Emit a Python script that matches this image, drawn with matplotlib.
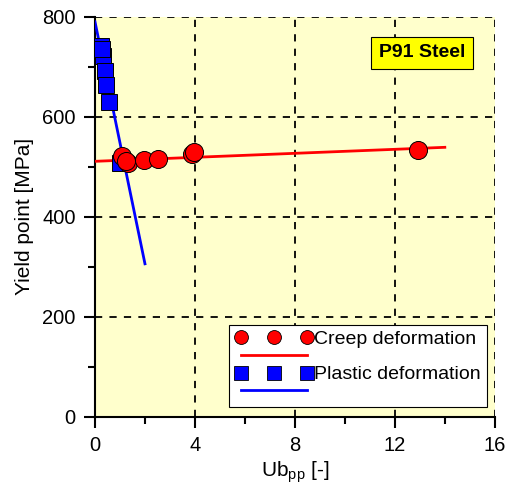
import matplotlib
matplotlib.use("Agg")
import matplotlib.pyplot as plt
from matplotlib.lines import Line2D

plt.rcParams['font.family'] = ['Liberation Sans', 'DejaVu Sans']

# creep deformation points
creep_x = [1.09, 1.33, 1.25, 1.97, 2.53, 3.9, 3.95, 12.92]
creep_y = [521, 507, 512, 514, 515, 525, 529, 534]
creep_fit_x = [0.0, 14.0]
creep_fit_y = [511, 539]

# plastic deformation points
plastic_x = [0.23, 0.31, 0.27, 0.40, 0.44, 0.57, 1.0]
plastic_y = [741, 721, 735, 691, 664, 629, 508]
plastic_fit_x = [0.0, 2.0]
plastic_fit_y = [790, 306]

fig = plt.figure(figsize=(5.08, 4.95), dpi=100)
ax = fig.add_axes([0.187, 0.158, 0.787, 0.808])
ax.set_facecolor('#ffffcc')

ax.plot(plastic_fit_x, plastic_fit_y, color='blue', lw=2, zorder=3)
ax.plot(creep_fit_x, creep_fit_y, color='red', lw=2, zorder=3)
ax.plot(plastic_x, plastic_y, 's', ms=12, mfc='blue', mec='black', mew=0.7, zorder=4)
ax.plot(creep_x, creep_y, 'o', ms=13, mfc='red', mec='black', mew=0.7, zorder=5)

ax.set_xlim(0, 16)
ax.set_ylim(0, 800)
ax.set_xticks([0, 4, 8, 12, 16])
ax.set_xticks([2, 6, 10, 14], minor=True)
ax.set_yticks([0, 200, 400, 600, 800])
ax.set_yticks([100, 300, 500, 700], minor=True)
ax.tick_params(which='major', direction='out', length=8, width=1.5, labelsize=14.5, pad=6)
ax.tick_params(which='minor', direction='out', length=5, width=1.5)
for s in ['top', 'right']:
    ax.spines[s].set_visible(False)
for s in ['left', 'bottom']:
    ax.spines[s].set_linewidth(1.5)

for gx in [4, 8, 12, 16]:
    ax.axvline(gx, color='black', ls=(0, (4, 4)), lw=1.3, zorder=1)
for gy in [200, 400, 600, 800]:
    ax.axhline(gy, color='black', ls=(0, (4, 4)), lw=1.3, zorder=1)

ax.set_xlabel('Ub$_{\\mathregular{pp}}$ [-]', fontsize=15, labelpad=3)
ax.set_ylabel('Yield point [MPa]', fontsize=15, labelpad=6)

ax.text(13.1, 728, 'P91 Steel', fontsize=14, fontweight='bold', ha='center', va='center',
        bbox=dict(boxstyle='square,pad=0.4', fc='yellow', ec='black', lw=0.8), zorder=6)

h_creep = Line2D([], [], ls='none', marker='o', ms=10, mfc='red', mec='black', mew=0.6)
h_creep_l = Line2D([], [], color='red', lw=2)
h_pl = Line2D([], [], ls='none', marker='s', ms=9.5, mfc='blue', mec='black', mew=0.6)
h_pl_l = Line2D([], [], color='blue', lw=2)
leg = ax.legend([h_creep, h_creep_l, h_pl, h_pl_l],
                ['Creep deformation', '', 'Plastic deformation', ''],
                loc='lower right', bbox_to_anchor=(0.985, 0.02), numpoints=3,
                fontsize=14, handlelength=4.0, handletextpad=0.1, labelspacing=0.0,
                borderpad=0.3, borderaxespad=0.1, fancybox=False, edgecolor='black',
                framealpha=1)
leg.get_frame().set_linewidth(0.8)

fig.savefig('out.png', dpi=100)
